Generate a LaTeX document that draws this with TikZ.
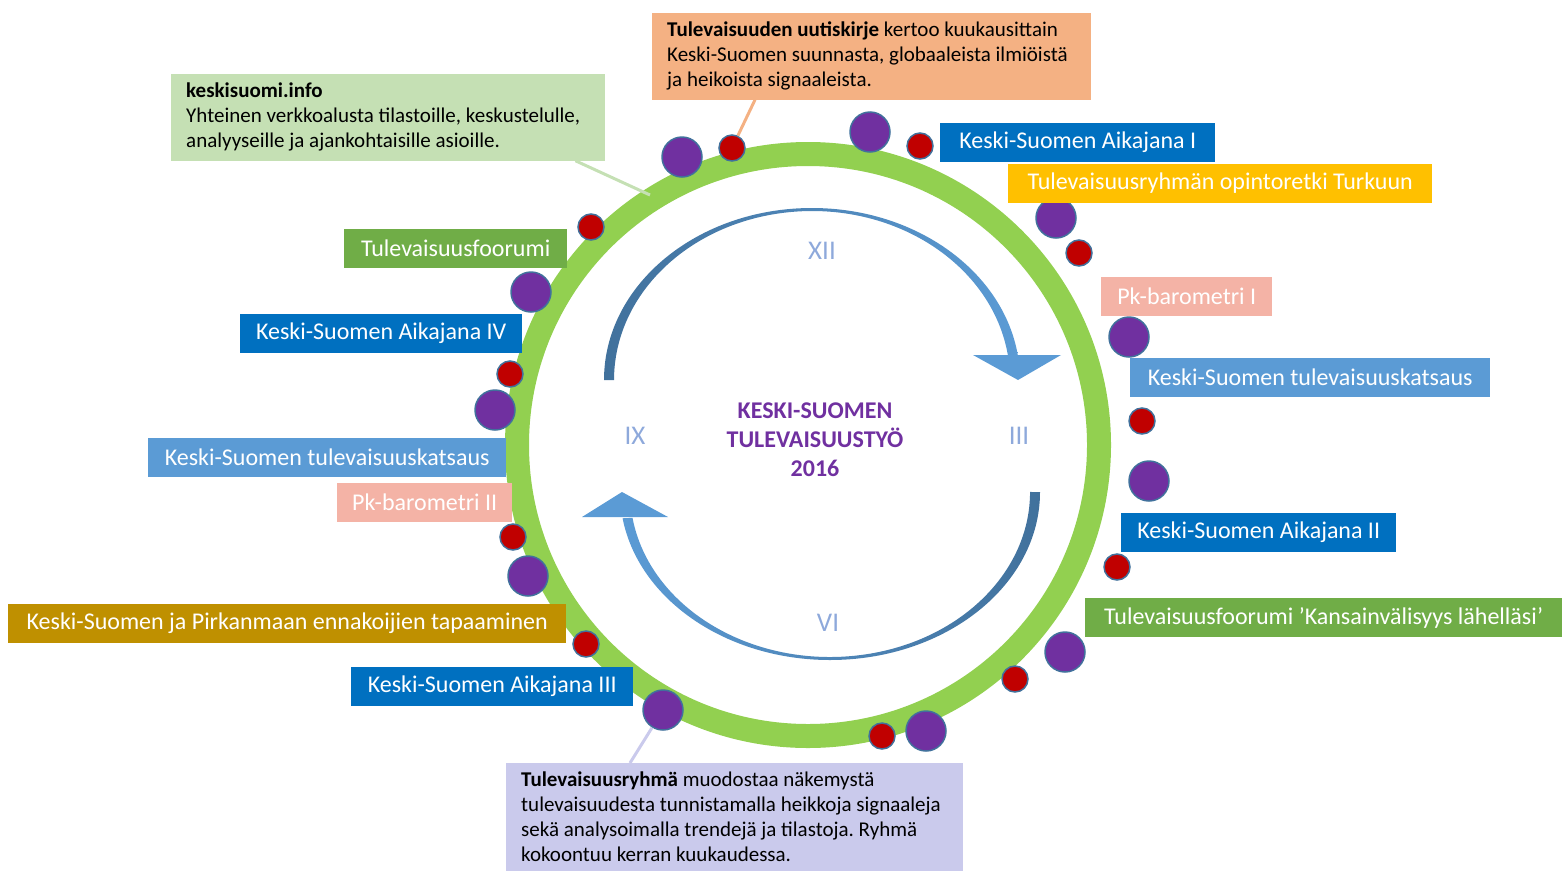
\documentclass[tikz,border=0pt]{standalone}
\usepackage{fontspec}
\setmainfont{Carlito}
\frenchspacing
\definecolor{ringgreen}{HTML}{92D050}
\definecolor{dotpurple}{HTML}{7030A0}
\definecolor{dotred}{HTML}{C00000}
\definecolor{dotedge}{HTML}{41719C}
\definecolor{arrowlight}{HTML}{5B9BD5}
\definecolor{arrowdark}{HTML}{41719C}
\definecolor{romanblue}{HTML}{8EA9DB}
\definecolor{ksblue}{HTML}{0070C0}
\definecolor{kslight}{HTML}{5B9BD5}
\definecolor{ksyellow}{HTML}{FFC000}
\definecolor{ksgreen}{HTML}{70AD47}
\definecolor{kspink}{HTML}{F4B3A6}
\definecolor{ksgold}{HTML}{BF9000}
\definecolor{ksorange}{HTML}{F4B183}
\definecolor{kspale}{HTML}{C5E0B4}
\definecolor{kslavender}{HTML}{CACAEC}

\begin{document}
\begin{tikzpicture}
  [x=1pt,y=-1pt,
   every node/.style={inner sep=0pt},
   labelbox/.style={rectangle, text=white, anchor=west, minimum height=39pt,
     font=\fontsize{24}{28}\selectfont},
   infobox/.style={rectangle, anchor=north west, align=flush left, inner xsep=15pt,
     inner ysep=9pt, font=\fontsize{21}{25}\selectfont},
   bigdot/.style={circle, fill=dotpurple, draw=dotedge, line width=1.5pt, minimum size=40pt},
   smalldot/.style={circle, fill=dotred, draw=dotedge, line width=1.5pt, minimum size=26pt},
   roman/.style={text=romanblue, font=\fontsize{27}{30}\selectfont}]
  \useasboundingbox (0,0) rectangle (1562,873);

  % ring
  \coordinate (c) at (808,445);
  \draw[ringgreen, line width=24pt] (c) circle[radius=291pt];

  % cycle arrows
  \shade[left color=arrowdark, right color=arrowlight]
    (604,380) arc[start angle=180, end angle=8, x radius=208pt, y radius=172pt]
    -- (1008.1,356.5) arc[start angle=8, end angle=180, x radius=198pt, y radius=169pt] -- cycle;
  \fill[arrowlight] (973,355) -- (1061,355) -- (1018,380) -- cycle;
  \shade[left color=arrowlight, right color=arrowdark]
    (1040,492) arc[start angle=0, end angle=-171, x radius=210pt, y radius=168pt]
    -- (632.5,517.8) arc[start angle=-171, end angle=0, x radius=200pt, y radius=165pt] -- cycle;
  \fill[arrowlight] (582,517) -- (668,517) -- (622,492) -- cycle;

  \node[roman] (xii) at (822,251) {XII};
  \node[roman] (iii) at (1019,436) {III};
  \node[roman] (vi) at (828,623) {VI};
  \node[roman] (ix) at (635,436) {IX};

  \node[align=center, text=dotpurple, font=\fontsize{24}{29}\selectfont\bfseries] (title) at (815,440)
    {KESKI-SUOMEN\\TULEVAISUUSTYÖ\\2016};

  % dots on the ring
  \foreach \name/\x/\y in {p1/682/157, p2/870/132, p3/1056/218, p4/531/292, p5/1129/337,
      p6/495/410, p7/1149/481, p8/528/576, p9/1065/652, p10/663/710, p11/926/731}
    \node[bigdot] (\name) at (\x,\y) {};
  \foreach \name/\x/\y in {r1/732/148, r2/920/146, r3/591/227, r4/1079/253, r5/510/374,
      r6/1142/421, r7/513/537, r8/1117/567, r9/586/644, r10/1015/679, r11/882/736}
    \node[smalldot] (\name) at (\x,\y) {};

  % event labels
  \node[labelbox, fill=ksblue, minimum width=275pt] (aika1) at (940,142.5) {Keski-Suomen Aikajana I};
  \node[labelbox, fill=ksyellow, minimum width=424pt] (turku) at (1008,183) {Tulevaisuusryhmän opintoretki Turkuun};
  \node[labelbox, fill=ksgreen, minimum width=223pt] (foor1) at (344,248) {Tulevaisuusfoorumi};
  \node[labelbox, fill=kspink, minimum width=171pt] (pk1) at (1101,296) {Pk-barometri I};
  \node[labelbox, fill=ksblue, minimum width=282pt] (aika4) at (240,333.5) {Keski-Suomen Aikajana IV};
  \node[labelbox, fill=kslight, minimum width=360pt] (katsaus1) at (1130,377.5) {Keski-Suomen tulevaisuuskatsaus};
  \node[labelbox, fill=kslight, minimum width=358pt] (katsaus2) at (148,457.5) {Keski-Suomen tulevaisuuskatsaus};
  \node[labelbox, fill=kspink, minimum width=175pt] (pk2) at (337,502) {Pk-barometri II};
  \node[labelbox, fill=ksblue, minimum width=275pt] (aika2) at (1121,532.5) {Keski-Suomen Aikajana II};
  \node[labelbox, fill=ksgreen, minimum width=477pt] (foor2) at (1085,617.5) {Tulevaisuusfoorumi ’Kansainvälisyys lähelläsi’};
  \node[labelbox, fill=ksgold, minimum width=558pt] (tapaaminen) at (8,623.5) {Keski-Suomen ja Pirkanmaan ennakoijien tapaaminen};
  \node[labelbox, fill=ksblue, minimum width=282pt] (aika3) at (351,686.5) {Keski-Suomen Aikajana III};

  % info boxes
  \node[infobox, fill=ksorange, text width=409pt] (ukirje) at (652,13)
    {\textbf{Tulevaisuuden uutiskirje} kertoo kuukausittain\\Keski-Suomen suunnasta, globaaleista ilmiöistä\\ja heikoista signaaleista.};
  \node[infobox, fill=kspale, text width=404pt] (ksinfo) at (171,74)
    {\textbf{keskisuomi.info}\\Yhteinen verkkoalusta tilastoille, keskustelulle,\\analyyseille ja ajankohtaisille asioille.};
  \node[infobox, fill=kslavender, text width=427pt] (tryhma) at (506,763)
    {\textbf{Tulevaisuusryhmä} muodostaa näkemystä\\tulevaisuudesta tunnistamalla heikkoja signaaleja\\sekä analysoimalla trendejä ja tilastoja. Ryhmä\\kokoontuu kerran kuukaudessa.};

  % connectors
  \coordinate (ringpt) at (650,195);
  \draw[ksorange, line width=3pt] (ukirje.south west) ++(103,0) coordinate (uk1) (uk1) -- (r1);
  \draw[kspale, line width=3pt] (ksinfo.south east) ++(-30,0) coordinate (ks1) (ks1) -- (ringpt);
  \draw[kslavender, line width=3pt] (tryhma.north west) ++(124,0) coordinate (tr1) (tr1) -- (p10);
\end{tikzpicture}
\end{document}
